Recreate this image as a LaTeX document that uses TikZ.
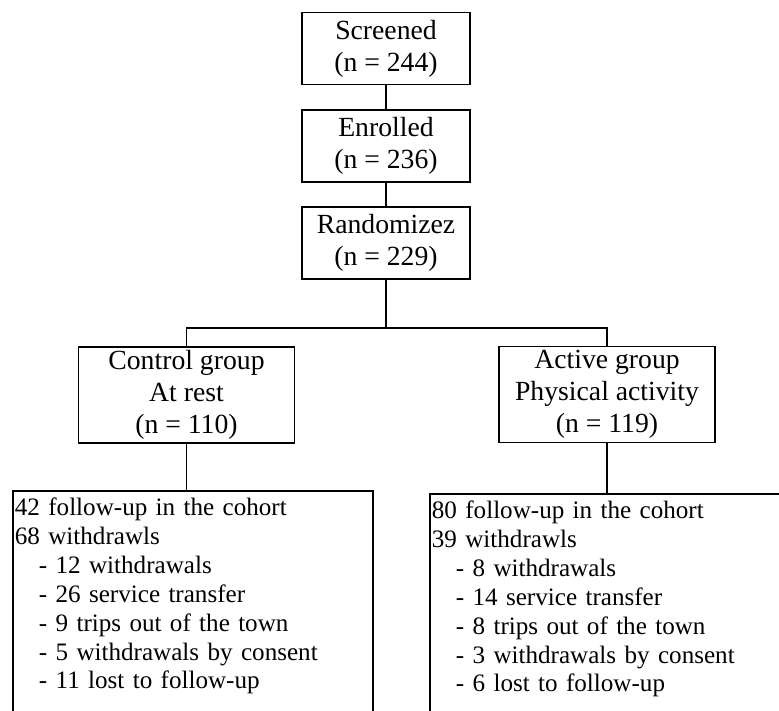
\documentclass[tikz,border=0pt]{standalone}
\usepackage{fontspec}
\setmainfont{Liberation Serif}
\usetikzlibrary{positioning}
\newcommand{\exitline}[1]{\hspace*{12pt}- #1}
\newcommand{\openend}{\rule[-30pt]{0pt}{30pt}}

\begin{document}
\begin{tikzpicture}[
  x=0.5pt, y=-0.5pt,
  node distance=12pt,
  box/.style={draw, line width=0.9pt, align=center, inner sep=1pt, font=\fontsize{13.85}{16}\selectfont},
  stage/.style={box, minimum width=84pt, minimum height=36pt},
  grp/.style={box, minimum width=108pt, minimum height=48pt},
  loss/.style={draw, line width=0.9pt, anchor=north west, align=left, inner xsep=1pt, inner ysep=3.5pt, font=\fontsize{12.55}{14.45}\selectfont},
  link/.style={line width=0.9pt}
]
\useasboundingbox (0,0) rectangle (779,710);
\clip (0,0) rectangle (779,710);
\node[stage] (scr) at (386,48.5) {Screened\\(n = 244)};
\node[stage, below=of scr] (enr) {Enrolled\\(n = 236)};
\node[stage, below=11.5pt of enr] (rnd) {Randomizez\\(n = 229)};
\coordinate[below=24pt of rnd.south] (split);
\node[grp] (ctrl) at (186.5,395) {Control group\\At rest\\(n = 110)};
\node[grp] (act) at (607,394.5) {Active group\\Physical activity\\(n = 119)};
\node[loss, text width=178pt] (lossL) at (12,490) {42 follow-up in the cohort\\68 withdrawls\\\exitline{12 withdrawals}\\\exitline{26 service transfer}\\\exitline{9 trips out of the town}\\\exitline{5 withdrawals by consent}\\\exitline{11 lost to follow-up}\openend};
\node[loss, text width=200pt] (lossR) at (429,493) {80 follow-up in the cohort\\39 withdrawls\\\exitline{8 withdrawals}\\\exitline{14 service transfer}\\\exitline{8 trips out of the town}\\\exitline{3 withdrawals by consent}\\\exitline{6 lost to follow-up}\openend};
\draw[link] (scr) -- (enr); \draw[link] (enr) -- (rnd); \draw[link] (rnd) -- (split);
\draw[link] (ctrl) |- (split) -| (act);
\draw[link] (ctrl) -- (ctrl |- lossL.north); \draw[link] (act) -- (act |- lossR.north);
\end{tikzpicture}
\end{document}
